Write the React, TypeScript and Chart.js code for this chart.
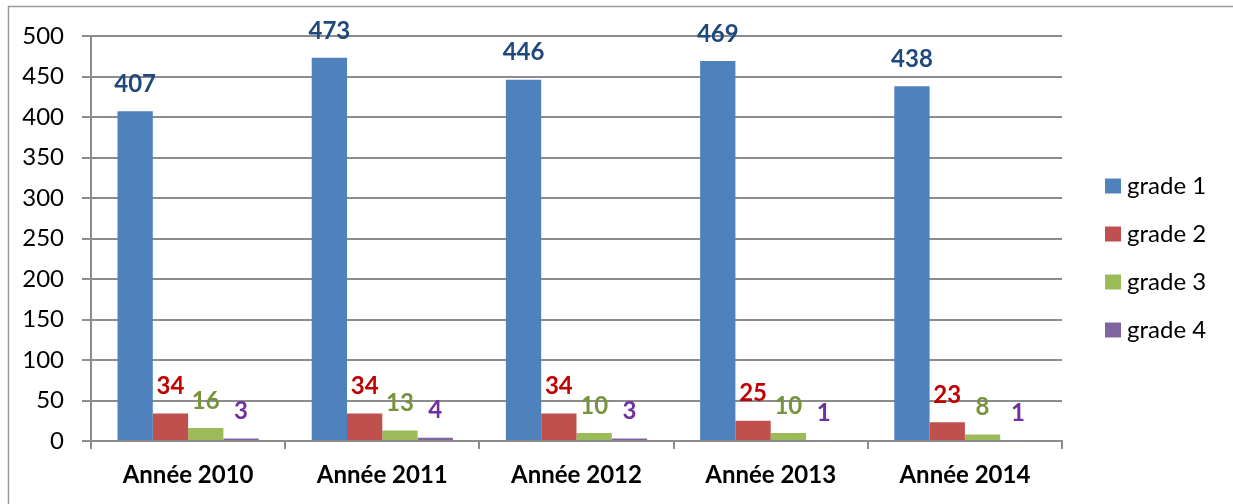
import { useEffect, useRef } from "react";
import { Chart, registerables } from "chart.js";

Chart.register(...registerables);

const categories = ["Année 2010", "Année 2011", "Année 2012", "Année 2013", "Année 2014"];
const seriesNames = ["grade 1", "grade 2", "grade 3", "grade 4"];
const grade1 = [407, 473, 446, 469, 438];
const grade2 = [34, 34, 34, 25, 23];
const grade3 = [16, 13, 10, 10, 8];
const grade4 = [3, 4, 3, 1, 1];
const yMin = 0;
const yMax = 500;
const yStep = 50;

const barColors = ["#4F81BD", "#C0504D", "#9BBB59", "#8064A2"];
const labelColors = ["#1F497D", "#C00000", "#77933C", "#7030A0"];
const FONT = "Lato, 'Open Sans', sans-serif";
const GRID = "#8c8c8c";

const framePlugin = {
  id: "frame",
  beforeDraw(chart: any) {
    const ctx = chart.ctx;
    ctx.save();
    ctx.fillStyle = "#ffffff";
    ctx.fillRect(0, 0, chart.width, chart.height);
    ctx.strokeStyle = "#9a9a9a";
    ctx.lineWidth = 1.5;
    ctx.beginPath();
    ctx.moveTo(8.5, chart.height);
    ctx.lineTo(8.5, 6.5);
    ctx.lineTo(chart.width, 6.5);
    ctx.stroke();
    ctx.restore();
  },
};

const valueLabelPlugin = {
  id: "valueLabels",
  afterDatasetsDraw(chart: any) {
    const ctx = chart.ctx;
    ctx.save();
    ctx.font = `bold 24px ${FONT}`;
    ctx.textAlign = "center";
    ctx.textBaseline = "middle";
    chart.data.datasets.forEach((ds: any, di: number) => {
      const meta = chart.getDatasetMeta(di);
      meta.data.forEach((bar: any, i: number) => {
        ctx.fillStyle = labelColors[di];
        ctx.fillText(String(ds.data[i]), bar.x, bar.y - 27);
      });
    });
    ctx.restore();
  },
};

const legendPlugin = {
  id: "customLegend",
  afterDraw(chart: any) {
    const ctx = chart.ctx;
    const area = chart.chartArea;
    const x0 = area.right + 43;
    const y0 = area.top + 150;
    const gap = 48;
    ctx.save();
    ctx.font = `24px ${FONT}`;
    ctx.textBaseline = "middle";
    ctx.textAlign = "left";
    chart.data.datasets.forEach((ds: any, i: number) => {
      const cy = y0 + i * gap;
      ctx.fillStyle = barColors[i];
      ctx.fillRect(x0, cy - 7.5, 16, 15);
      ctx.fillStyle = "#000000";
      ctx.fillText(ds.label, x0 + 22, cy);
    });
    ctx.restore();
  },
};

export default function App() {
  const ref = useRef<HTMLCanvasElement | null>(null);

  useEffect(() => {
    document.body.style.margin = "0";
    if (!ref.current) return;
    const series = [grade1, grade2, grade3, grade4];
    const chart = new Chart(ref.current, {
      type: "bar",
      data: {
        labels: categories,
        datasets: series.map((d, i) => ({
          label: seriesNames[i],
          data: d,
          backgroundColor: barColors[i],
          borderWidth: 0,
          categoryPercentage: 0.727,
          barPercentage: 1.0,
        })),
      },
      options: {
        responsive: false,
        animation: false,
        layout: { padding: { left: 0, top: 36, right: 171, bottom: 0 } },
        plugins: {
          legend: { display: false },
          tooltip: { enabled: false },
        },
        scales: {
          x: {
            afterFit: (s: any) => {
              s.height = 63;
            },
            grid: {
              offset: true,
              drawOnChartArea: false,
              drawTicks: true,
              tickLength: 8,
              color: GRID,
              lineWidth: 2,
            },
            border: { display: true, color: GRID, width: 2 },
            ticks: {
              color: "#000000",
              font: { family: FONT, size: 24, weight: "bold" },
              padding: 12,
            },
          },
          y: {
            min: yMin,
            max: yMax,
            afterFit: (s: any) => {
              s.width = 91;
            },
            grid: {
              color: GRID,
              lineWidth: 2,
              drawTicks: true,
              tickLength: 9,
            },
            border: { display: true, color: GRID, width: 2 },
            ticks: {
              stepSize: yStep,
              color: "#000000",
              font: { family: FONT, size: 24 },
              padding: 18,
            },
          },
        },
      },
      plugins: [framePlugin, valueLabelPlugin, legendPlugin],
    });
    return () => chart.destroy();
  }, []);

  return (
    <div style={{ position: "absolute", left: 0, top: 0 }}>
      <canvas ref={ref} width={1233} height={504} style={{ display: "block" }} />
    </div>
  );
}
